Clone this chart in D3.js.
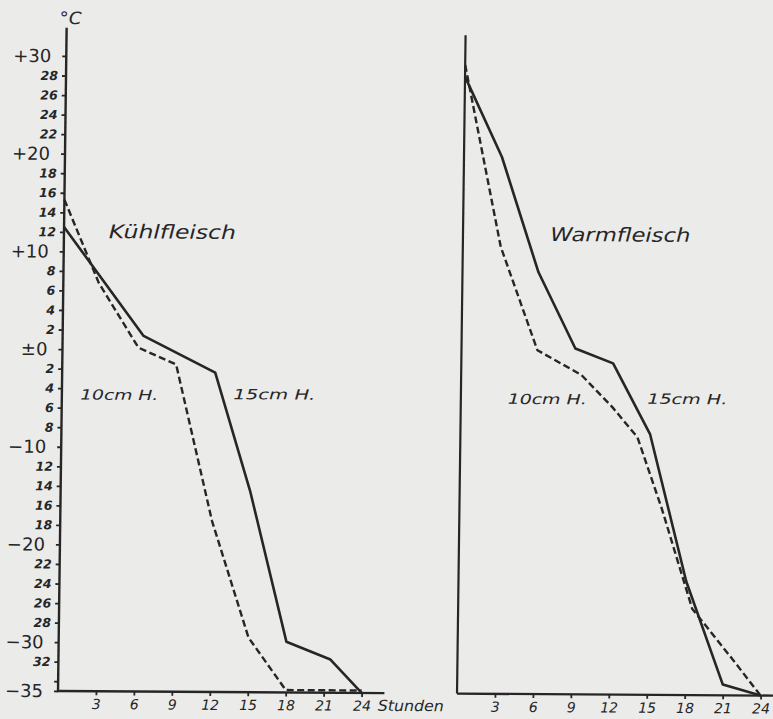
<!DOCTYPE html>
<html><head><meta charset="utf-8">
<script src="https://cdn.jsdelivr.net/npm/d3@7"></script>
<style>
html,body{margin:0;padding:0;background:#ebebea;}
svg{display:block;}
</style></head><body>
<svg id="c" width="773" height="719"></svg>
<script>
// ---- data ----
const hourTicks = [3,6,9,12,15,18,21,24];
const tempTicks = [30,28,26,24,22,20,18,16,14,12,10,8,6,4,2,0,-2,-4,-6,-8,-10,-12,-14,-16,-18,-20,-22,-24,-26,-28,-30,-32,-34,-35];
const majorTemps = [30,20,10,0,-10,-20,-30,-35];
const majorLabels = ["+30","+20","+10","±0","−10","−20","−30","−35"];

const kuehlHours15 = [0,6.4,12.1,15,18,21.5,24];
const kuehlTemp15  = [12.5,1.4,-2.3,-14.5,-29.8,-31.6,-35];
const kuehlHours10 = [0,2.8,6,9,12,15,18,24];
const kuehlTemp10  = [15.3,6.8,0.2,-1.5,-17.5,-29.4,-34.75,-34.75];

const warmHours15 = [0,3,6,9,12,15,18,21,24];
const warmTemp15  = [28.15,19.95,8.2,0.4,-1.1,-8.35,-23.35,-33.9,-35];
const warmHours10 = [0,3,6,9.5,12,14,16,18.5,21.8,24];
const warmTemp10  = [29.35,10.75,0.2,-2.3,-5.6,-8.65,-15.95,-26.15,-31.4,-35];

const panelTitles = ["Kühlfleisch","Warmfleisch"];
const seriesLabels = ["10cm H.","15cm H."];
const unitLabel = "°C";
const timeLabel = "Stunden";

// ---- drawing ----
const INK = "#262626";
const svg = d3.select("#c");
svg.append("rect").attr("width",773).attr("height",719).attr("fill","#ebebea");
// slight skew of the scanned sheet
const g = svg.append("g").attr("transform","matrix(1,0.0065,-0.013,1,9.0,-0.38)");

const y = d3.scaleLinear().domain([-35,30]).range([691,56]);
const xL = d3.scaleLinear().domain([0,24]).range([58,361.6]);
const xR = d3.scaleLinear().domain([0,24]).range([457,760.6]);

const fontFam = "'DejaVu Sans', 'Liberation Sans', sans-serif";

// left y axis
const fmt = v => {
  const i = majorTemps.indexOf(v);
  if (i >= 0) return majorLabels[i];
  if (v === -34) return "";
  return String(Math.abs(v));
};
const ya = g.append("g").attr("transform",`translate(${xL(0)},0)`)
  .call(d3.axisLeft(y).tickValues(tempTicks).tickSize(4).tickFormat(fmt));
ya.select(".domain").remove();
ya.selectAll(".tick line").attr("stroke",INK).attr("stroke-width",1.8);
ya.selectAll(".tick text")
  .attr("fill",INK)
  .style("font-family",fontFam)
  .each(function(d){
    const maj = majorTemps.includes(d);
    d3.select(this)
      .attr("x", maj ? -15 : -8)
      .style("font-size", maj ? "18px" : "12.5px")
      .style("font-weight", maj ? "normal" : "bold")
      .style("font-style", maj ? "normal" : "italic");
  });
g.append("line").attr("x1",xL(0)).attr("x2",xL(0)).attr("y1",y(32.9)).attr("y2",y(-35))
  .attr("stroke",INK).attr("stroke-width",2.4);

// right y axis (no ticks)
g.append("line").attr("x1",xR(0)).attr("x2",xR(0)).attr("y1",y(32.4)).attr("y2",y(-35))
  .attr("stroke",INK).attr("stroke-width",2.2);

// x axes
function xAxis(scale, endT){
  const a = g.append("g").attr("transform",`translate(0,${y(-35)})`)
    .call(d3.axisBottom(scale).tickValues(hourTicks).tickSize(4));
  a.select(".domain").remove();
  a.selectAll(".tick line").attr("stroke",INK).attr("stroke-width",1.8);
  a.selectAll(".tick text").attr("fill",INK).attr("y",13).attr("dy","0.35em")
    .style("font-family",fontFam).style("font-size","14px").style("font-style","italic");
  g.append("line").attr("x1",scale(0)).attr("x2",scale(endT)).attr("y1",y(-35)).attr("y2",y(-35))
    .attr("stroke",INK).attr("stroke-width",2.4);
}
xAxis(xL, 25.8);
xAxis(xR, 27);

// series
const line = (sx) => d3.line().x(d=>sx(d[0])).y(d=>y(d[1]));
function series(sx, hours, temps, dashed){
  g.append("path").datum(d3.zip(hours,temps))
    .attr("d", line(sx))
    .attr("fill","none").attr("stroke",INK)
    .attr("stroke-width", dashed ? 2.4 : 2.6)
    .attr("stroke-linejoin","round")
    .attr("stroke-dasharray", dashed ? "7,3.5" : null);
}
series(xL, kuehlHours15, kuehlTemp15, false);
series(xL, kuehlHours10, kuehlTemp10, true);
series(xR, warmHours15, warmTemp15, false);
series(xR, warmHours10, warmTemp10, true);

// text annotations
function label(sx, t, v, txt, size, len, weight){
  g.append("text").attr("x",sx(t)).attr("y",y(v))
    .attr("text-anchor","middle").attr("dominant-baseline","central")
    .attr("fill",INK)
    .attr("textLength",len).attr("lengthAdjust","spacingAndGlyphs")
    .style("font-family",fontFam).style("font-style","italic")
    .style("font-weight",weight||"normal")
    .style("font-size",size+"px")
    .text(txt);
}
label(xL, 0.3, 33.9, unitLabel, 17, 22);
label(xL, 8.57, 12.1, panelTitles[0], 19, 127);
label(xR, 12.44, 12.1, panelTitles[1], 19, 140);
label(xL, 4.54, -4.64, seriesLabels[0], 14, 78);
label(xL, 16.8, -4.5, seriesLabels[1], 14, 82);
label(xR, 6.83, -4.8, seriesLabels[0], 14, 79);
label(xR, 17.9, -4.7, seriesLabels[1], 14, 80);
label(xL, 27.9, -36.3, timeLabel, 15, 66);
</script>
</body></html>
